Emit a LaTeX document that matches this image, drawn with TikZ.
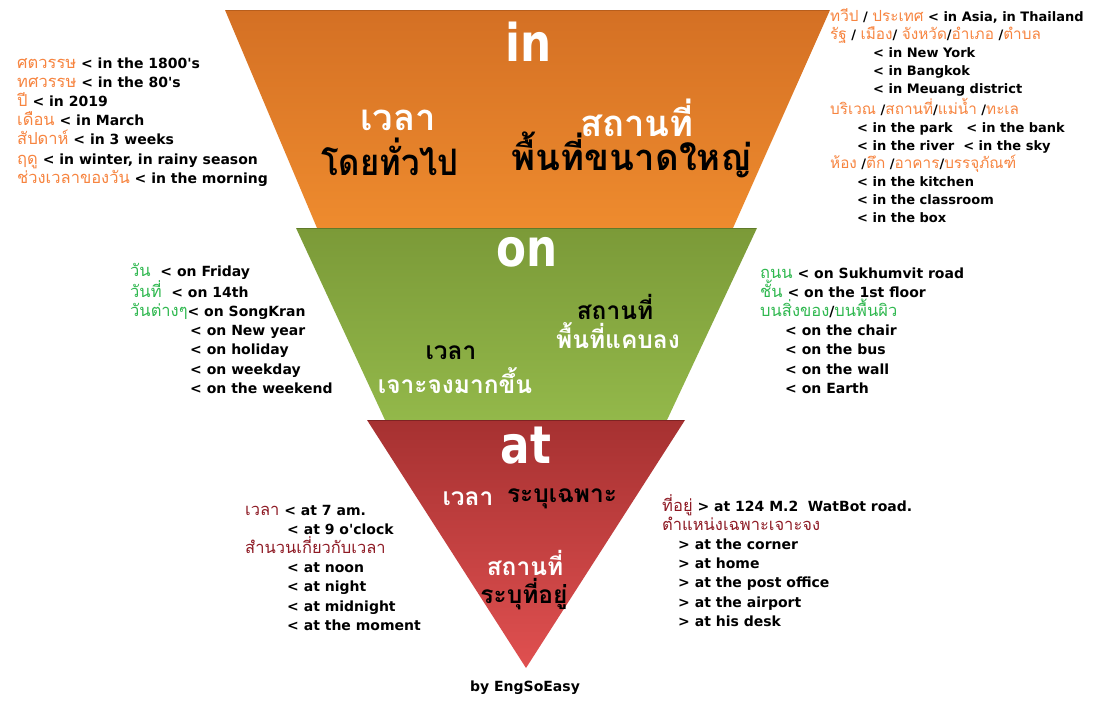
\documentclass[tikz,border=0pt]{standalone}
\usepackage{fontspec}
\setmainfont{DejaVu Sans}
\newfontfamily\thf[Script=Thai]{Loma}
\definecolor{inor}{HTML}{F7843F}
\definecolor{ongr}{HTML}{2FB84F}
\definecolor{atrd}{HTML}{8E1A24}
\definecolor{inTop}{HTML}{D47024}
\definecolor{inBot}{HTML}{EE8B2E}
\definecolor{inEdge}{HTML}{B85E1C}
\definecolor{onTop}{HTML}{7B9A38}
\definecolor{onBot}{HTML}{93B84A}
\definecolor{onEdge}{HTML}{5F7A2A}
\definecolor{atTop}{HTML}{A63131}
\definecolor{atBot}{HTML}{E05050}
\definecolor{atEdge}{HTML}{7E2222}
\newcommand\thsm{\thf\mdseries\fontsize{16.5pt}{\baselineskip}\selectfont}
\newcommand\thsr{\thf\mdseries\fontsize{15.3pt}{\baselineskip}\selectfont}
\newcommand\tO[1]{{\thsm\color{inor}#1}}
\newcommand\tOr[1]{{\thsr\color{inor}#1}}
\newcommand\tG[1]{{\thsm\color{ongr}#1}}
\newcommand\tR[1]{{\thsm\color{atrd}#1}}
\newcommand\q{\textquotesingle}
\newcommand\hd[1]{\scalebox{0.84}[1]{#1}}
\tikzset{
  lst/.style={anchor=base west, align=left, inner sep=0pt, font=\bfseries\fontsize{14}{19.2}\selectfont},
  lstr/.style={lst, font=\bfseries\fontsize{13}{18}\selectfont},
  big/.style={text=white, font=\bfseries\fontsize{52}{52}\selectfont, inner sep=0pt},
  thbig/.style={font=\thf\bfseries\fontsize{36.5}{36.5}\selectfont, inner sep=0pt},
  thmid/.style={font=\thf\bfseries\fontsize{24.5}{24.5}\selectfont, inner sep=0pt},
}
\begin{document}
\begin{tikzpicture}[x=1pt,y=-1pt]
\useasboundingbox[fill=white] (0,0) rectangle (1097,715);
% shapes
\shade[top color=inTop, bottom color=inBot] (225,10) -- (830,10) -- (733,228) -- (317,228) -- cycle;
\draw[inEdge, line width=1.2pt] (226,10.5) -- (829,10.5);
\shade[top color=onTop, bottom color=onBot] (296,228) -- (757,228) -- (667,420) -- (385,420) -- cycle;
\draw[onEdge, line width=1.2pt] (297,228.5) -- (756,228.5);
\shade[top color=atTop, bottom color=atBot] (367,420) -- (685,420) -- (526,668) -- cycle;
\draw[atEdge, line width=1.2pt] (368,420.5) -- (684,420.5);
% headings
\node[big] (in) at (529,42) {\hd{in}};
\node[big] (on) at (527,252) {\hd{on}};
\node[big] (at) at (526,446) {\hd{at}};
% in texts
\node[thbig, text=white] (inT1) at (398,120) {เวลา};
\node[thbig, text=black] (inT2) at (390,157) {\scalebox{0.9}[1]{โดยทั่วไป}};
\node[thbig, text=white] (inP1) at (637,118) {สถานที่};
\node[thbig, text=black] (inP2) at (632,155) {พื้นที่ขนาดใหญ่};
% on texts
\node[thmid, text=black] (onP1) at (615,307) {สถานที่};
\node[thmid, text=white] (onP2) at (618,336) {พื้นที่แคบลง};
\node[thmid, text=black] (onT1) at (451,353) {เวลา};
\node[thmid, text=white] (onT2) at (455,381) {เจาะจงมากขึ้น};
% at texts
\node[thmid, text=white] (atT1) at (468,499) {เวลา};
\node[thmid, text=black] (atT2) at (562,499) {ระบุเฉพาะ};
\node[thmid, text=white] (atP1) at (525,563) {สถานที่};
\node[thmid, text=black] (atP2) at (524,594) {ระบุที่อยู่};
\node[font=\bfseries\fontsize{14}{14}\selectfont, inner sep=0pt] (by) at (525,688) {by EngSoEasy};
% lists (anchored at the baseline of the last line)
\node[lst] (inL) at (17,183.2) {%
\tO{ศตวรรษ} < in the 1800\q s\\
\tO{ทศวรรษ} < in the 80\q s\\
\tO{ปี} < in 2019\\
\tO{เดือน} < in March\\
\tO{สัปดาห์} < in 3 weeks\\
\tO{ฤดู} < in winter, in rainy season\\
\tO{ช่วงเวลาของวัน} < in the morning};
\node[lstr] (inR) at (830,222) {%
\tOr{ทวีป} / \tOr{ประเทศ} < in Asia, in Thailand\\
\tOr{รัฐ} / \tOr{เมือง}/ \tOr{จังหวัด}/\tOr{อำเภอ} /\tOr{ตำบล}\\
\hspace*{43pt}< in New York\\
\hspace*{43pt}< in Bangkok\\
\hspace*{43pt}< in Meuang district\\
\tOr{บริเวณ} /\tOr{สถานที่}/\tOr{แม่น้ำ} /\tOr{ทะเล}\\
\hspace*{27pt}< in the park \ \ < in the bank\\
\hspace*{27pt}< in the river \ < in the sky\\
\tOr{ห้อง} /\tOr{ตึก} /\tOr{อาคาร}/\tOr{บรรจุภัณฑ์}\\
\hspace*{27pt}< in the kitchen\\
\hspace*{27pt}< in the classroom\\
\hspace*{27pt}< in the box};
\node[lst] (onL) at (130,393.2) {%
\tG{วัน}\ \ < on Friday\\
\tG{วันที่}\ \ < on 14th\\
\tG{วันต่างๆ}< on SongKran\\
\hspace*{60pt}< on New year\\
\hspace*{60pt}< on holiday\\
\hspace*{60pt}< on weekday\\
\hspace*{60pt}< on the weekend};
\node[lst] (onR) at (760,393.2) {%
\tG{ถนน} < on Sukhumvit road\\
\tG{ชั้น} < on the 1st floor\\
\tG{บนสิ่งของ}/\tG{บนพื้นผิว}\\
\hspace*{25pt}< on the chair\\
\hspace*{25pt}< on the bus\\
\hspace*{25pt}< on the wall\\
\hspace*{25pt}< on Earth};
\node[lst] (atL) at (245,630.2) {%
\tR{เวลา} < at 7 am.\\
\hspace*{42pt}< at 9 o\q clock\\
\tR{สำนวนเกี่ยวกับเวลา}\\
\hspace*{42pt}< at noon\\
\hspace*{42pt}< at night\\
\hspace*{42pt}< at midnight\\
\hspace*{42pt}< at the moment};
\node[lst] (atR) at (662,626.2) {%
\tR{ที่อยู่} > at 124 M.2 \ WatBot road.\\
\tR{ตำแหน่งเฉพาะเจาะจง}\\
\hspace*{16pt}> at the corner\\
\hspace*{16pt}> at home\\
\hspace*{16pt}> at the post office\\
\hspace*{16pt}> at the airport\\
\hspace*{16pt}> at his desk};
\end{tikzpicture}
\end{document}
